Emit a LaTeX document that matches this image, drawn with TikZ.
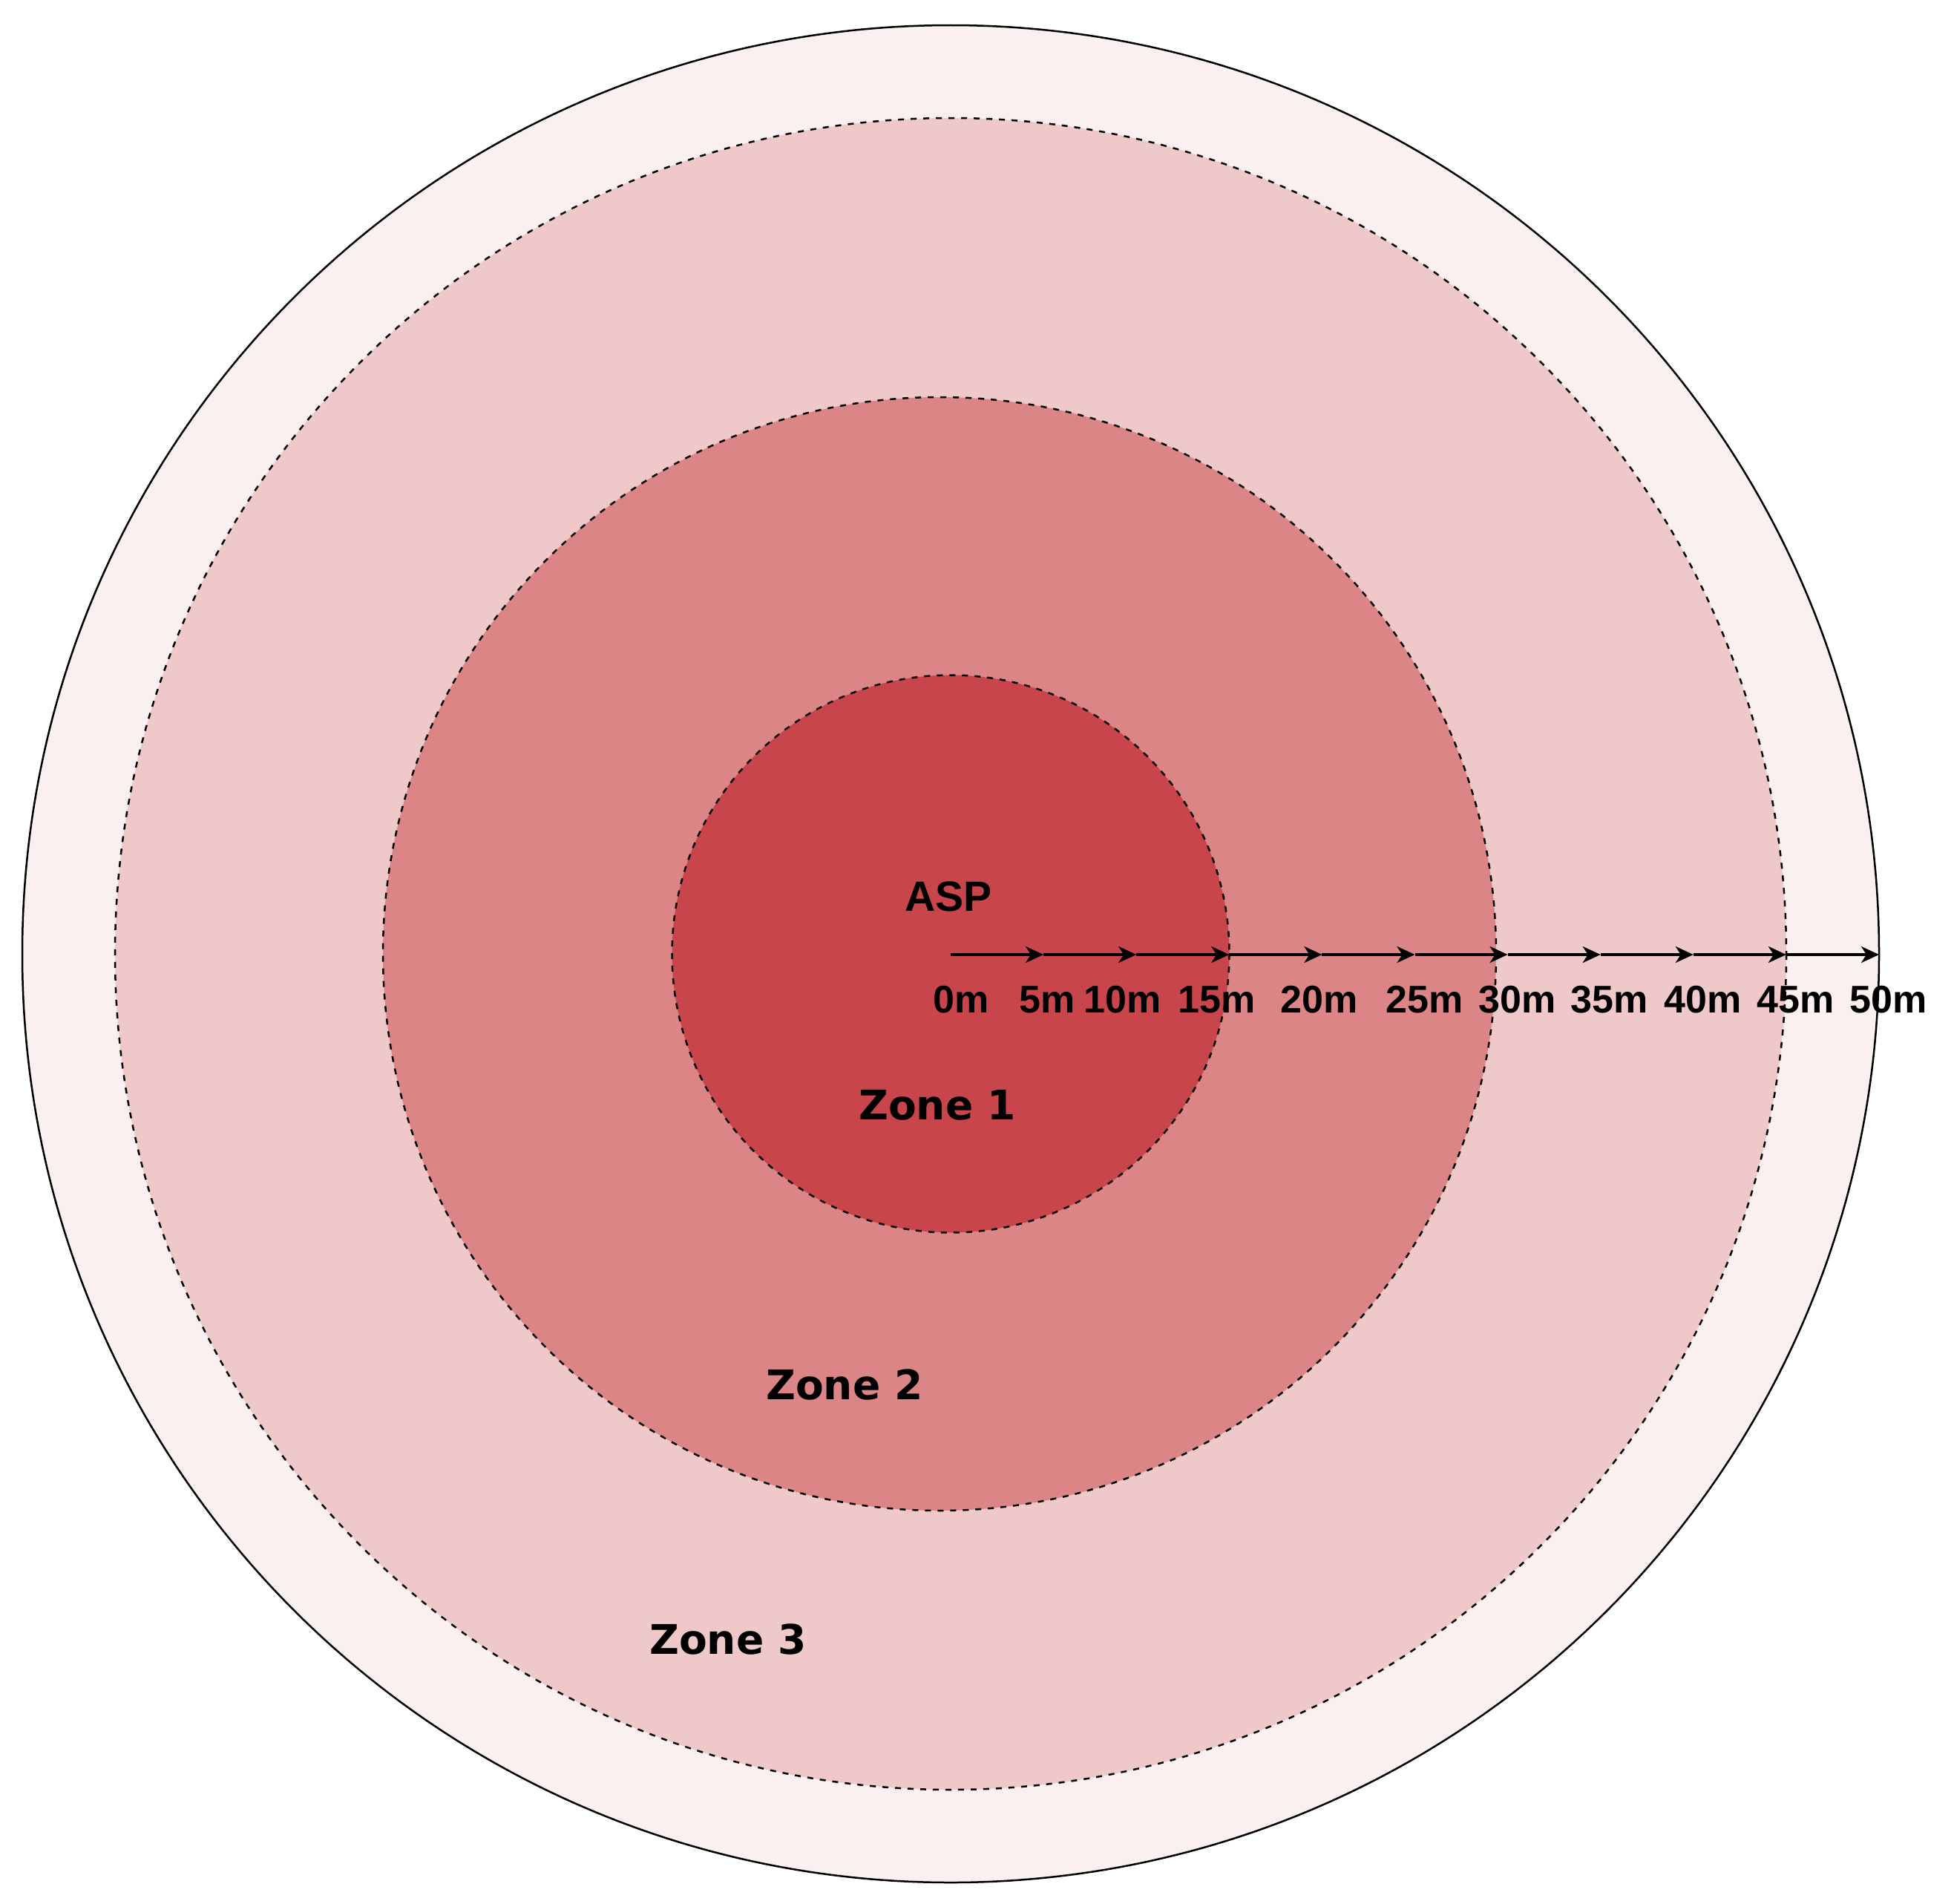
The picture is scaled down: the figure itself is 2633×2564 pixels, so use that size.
\documentclass[tikz,border=0pt]{standalone}
\usepackage{fontspec}
\setmainfont{Liberation Sans}
\newfontfamily\zonefont{DejaVu Sans}
\usetikzlibrary{arrows.meta}
\definecolor{zoneone}{RGB}{200,70,75}
\definecolor{zonetwo}{RGB}{220,133,135}
\definecolor{zonethree}{RGB}{239,200,201}
\definecolor{outerzone}{RGB}{249,240,239}
\tikzset{
  ringdash/.style={draw=black, line width=2.5pt, dash pattern=on 8pt off 9pt},
  outerring/.style={draw=black, line width=2.5pt, fill=outerzone},
  arr/.style={line width=3.5pt, -{Stealth[length=24pt, width=22pt, inset=7pt]}},
  ticklbl/.style={font=\fontsize{52}{56}\selectfont\bfseries, inner sep=0pt, anchor=center},
  zonelbl/.style={font=\zonefont\fontsize{55}{60}\selectfont\bfseries, inner sep=0pt, anchor=center},
  asplbl/.style={font=\fontsize{57}{60}\selectfont\bfseries, inner sep=0pt, anchor=center}
}
\begin{document}
\begin{tikzpicture}[x=1pt, y=-1pt]
\useasboundingbox (0,0) rectangle (2633,2564);
\coordinate (c) at (1281,1285);
\coordinate (c2) at (1266,1285);
% rings
\draw[outerring] (c) circle[radius=1251];
\fill[zonethree] (c) circle[radius=1126];
\draw[ringdash] (c) circle[radius=1126];
\fill[zonetwo] (c2) circle[radius=750];
\draw[ringdash] (c2) circle[radius=750];
\fill[zoneone] (c) circle[radius=375.5];
\draw[ringdash] (c) circle[radius=375.5];
% tick coordinates
\foreach \k in {0,...,10} {
  \coordinate (t\k) at ({1281+125.1*\k},1286);
}
\foreach \k [evaluate=\k as \j using int(\k+1)] in {0,...,9} {
  \draw[arr] (t\k) -- (t\j);
}
% tick labels
\node[ticklbl] (l0)  at (1295,1347) {0m};
\node[ticklbl] (l5)  at (1411,1347) {5m};
\node[ticklbl] (l10) at (1513,1347) {10m};
\node[ticklbl] (l15) at (1640,1347) {15m};
\node[ticklbl] (l20) at (1778,1347) {20m};
\node[ticklbl] (l25) at (1920,1347) {25m};
\node[ticklbl] (l30) at (2045,1347) {30m};
\node[ticklbl] (l35) at (2169,1347) {35m};
\node[ticklbl] (l40) at (2295,1347) {40m};
\node[ticklbl] (l45) at (2420,1347) {45m};
\node[ticklbl] (l50) at (2545,1347) {50m};
% labels
\node[asplbl] (asp) at (1278,1208) {ASP};
\node[zonelbl] (z1) at (1263,1489) {Zone 1};
\node[zonelbl] (z2) at (1138,1865) {Zone 2};
\node[zonelbl] (z3) at (981,2208) {Zone 3};
\end{tikzpicture}
\end{document}
